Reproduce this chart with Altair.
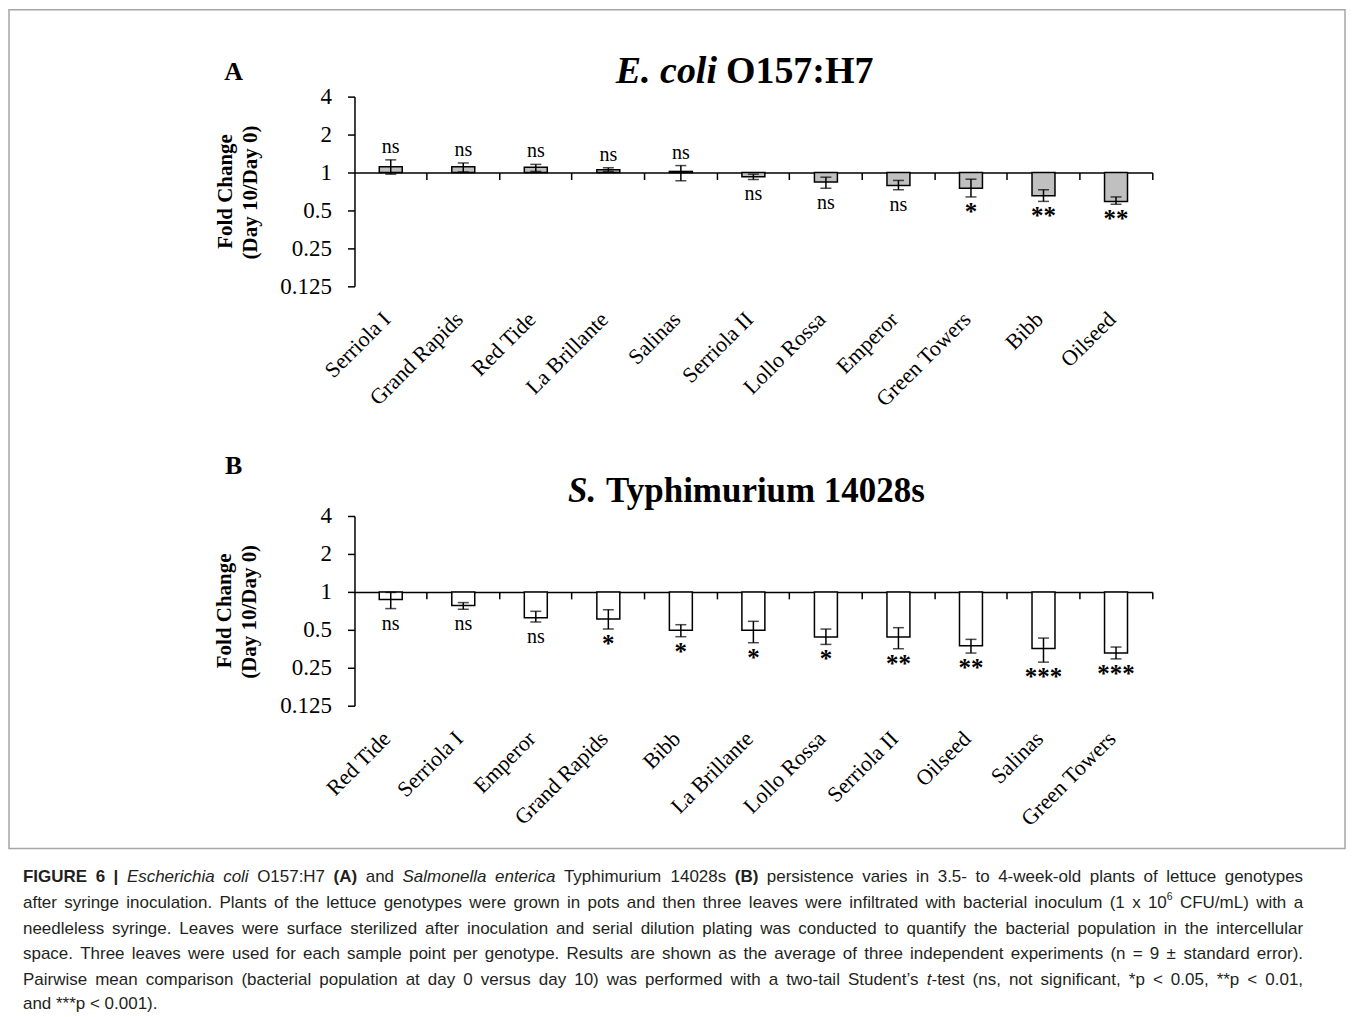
import altair as alt
import pandas as pd

SERIF = "Liberation Serif"
SANS = "Liberation Sans"

# ---------------- data ----------------
A_cats = ["Serriola I", "Grand Rapids", "Red Tide", "La Brillante", "Salinas", "Serriola II",
          "Lollo Rossa", "Emperor", "Green Towers", "Bibb", "Oilseed"]
A_mean = [1.11, 1.11, 1.10, 1.05, 1.02, 0.925, 0.84, 0.79, 0.75, 0.655, 0.59]
A_hi = [1.26, 1.19, 1.16, 1.09, 1.135, 0.97, 0.918, 0.865, 0.885, 0.73, 0.64]
A_lo = [0.97, 1.01, 1.02, 1.02, 0.86, 0.88, 0.75, 0.73, 0.64, 0.59, 0.56]
A_sig = ["ns", "ns", "ns", "ns", "ns", "ns", "ns", "ns", "*", "**", "**"]

B_cats = ["Red Tide", "Serriola I", "Emperor", "Grand Rapids", "Bibb", "La Brillante",
          "Lollo Rossa", "Serriola II", "Oilseed", "Salinas", "Green Towers"]
B_mean = [0.869, 0.778, 0.624, 0.61, 0.495, 0.495, 0.438, 0.438, 0.374, 0.356, 0.327]
B_hi = [0.99, 0.822, 0.701, 0.723, 0.549, 0.584, 0.507, 0.52, 0.42, 0.43, 0.365]
B_lo = [0.737, 0.728, 0.577, 0.507, 0.441, 0.395, 0.383, 0.354, 0.327, 0.277, 0.294]
B_sig = ["ns", "ns", "ns", "*", "*", "*", "*", "**", "**", "***", "***"]

Y_TICKS = [0.125, 0.25, 0.5, 1, 2, 4]

W, H = 799, 190
OX_A, OY_A = 354, 95      # page position of panel A plot origin
OX_B, OY_B = 354, 515     # page position of panel B plot origin


def txt(s, x, y, size=20, weight="normal", style="normal", align="center",
        baseline="middle", angle=0, font=SERIF, color="black"):
    return alt.Chart(alt.Data(values=[{"t": s}])).mark_text(
        fontSize=size, fontWeight=weight, fontStyle=style, align=align,
        baseline=baseline, angle=angle, font=font, color=color
    ).encode(text="t:N", x=alt.value(x), y=alt.value(y))


def panel(cats, mean, lo, hi, sig, fill):
    df = pd.DataFrame({"cat": cats, "mean": mean, "lo": lo, "hi": hi, "sig": sig})
    df["base"] = 1.0
    df["side"] = ["up" if m > 1 else "down" for m in mean]
    df["fs"] = [20 if s == "ns" else 25 for s in sig]
    df["star"] = [s != "ns" for s in sig]
    ysc = alt.Scale(type="log", base=2, domain=[0.125, 4])
    xsc = alt.Scale(paddingInner=0, paddingOuter=0)
    yaxis = alt.Axis(orient="left", values=Y_TICKS, format="~g", grid=False,
                     domain=True, domainColor="black", domainWidth=1.5,
                     ticks=True, tickColor="black", tickWidth=1.5, tickSize=7,
                     labels=True, labelFont=SERIF, labelFontSize=23, labelColor="black",
                     labelPadding=16, title=None)
    xlab = alt.Axis(orient="bottom", domain=False, ticks=False, tickSize=0,
                    labelAngle=-45, labelAlign="right", labelBaseline="top",
                    labelPadding=22, labelOffset=-11, labelFont=SERIF, labelFontSize=22,
                    labelColor="black", title=None, grid=False)
    xline = alt.Axis(orient="bottom", offset=-114, labels=False, domain=True,
                     domainColor="black", domainWidth=1.5, ticks=True,
                     tickColor="black", tickWidth=1.5, tickSize=7, bandPosition=1,
                     title=None, grid=False)
    b = alt.Chart(df)
    xn = lambda: alt.X("cat:N", sort=cats, scale=xsc, axis=None)
    bars = b.mark_bar(size=23, fill=fill, stroke="black", strokeWidth=1.5).encode(
        x=alt.X("cat:N", sort=cats, scale=xsc, axis=xlab),
        y=alt.Y("mean:Q", scale=ysc, axis=yaxis),
        y2="base:Q")
    err = b.mark_rule(color="black", strokeWidth=1.5).encode(
        x=alt.X("cat:N", sort=cats, scale=xsc, axis=xline),
        y=alt.Y("lo:Q", scale=ysc, axis=None), y2="hi:Q")
    cap_lo = b.mark_tick(color="black", thickness=1.5, size=11).encode(
        x=xn(), y=alt.Y("lo:Q", scale=ysc, axis=None))
    cap_hi = b.mark_tick(color="black", thickness=1.5, size=11).encode(
        x=xn(), y=alt.Y("hi:Q", scale=ysc, axis=None))
    up = b.transform_filter("datum.side == 'up'").mark_text(
        font=SERIF, baseline="alphabetic", dy=-7, color="black").encode(
        x=xn(), y=alt.Y("hi:Q", scale=ysc, axis=None), text="sig:N",
        size=alt.Size("fs:Q", scale=None, legend=None))
    down_ns = b.transform_filter("datum.side == 'down' && !datum.star").mark_text(
        font=SERIF, baseline="top", dy=5, color="black").encode(
        x=xn(), y=alt.Y("lo:Q", scale=ysc, axis=None), text="sig:N",
        size=alt.Size("fs:Q", scale=None, legend=None))
    down_st = b.transform_filter("datum.side == 'down' && datum.star").mark_text(
        font=SERIF, baseline="top", dy=3, color="black", fontWeight="bold").encode(
        x=xn(), y=alt.Y("lo:Q", scale=ysc, axis=None), text="sig:N",
        size=alt.Size("fs:Q", scale=None, legend=None))
    return [bars, err, cap_lo, cap_hi, up, down_ns, down_st]


# ---------------- caption ----------------
REG = {' ': 278, '!': 278, '"': 355, '#': 556, '$': 556, '%': 889, '&': 667, "'": 191,
       '(': 333, ')': 333, '*': 389, '+': 584, ',': 278, '-': 333, '.': 278, '/': 278,
       ':': 278, ';': 278, '<': 584, '=': 584, '>': 584, '?': 556, '@': 1015,
       'A': 667, 'B': 667, 'C': 722, 'D': 722, 'E': 667, 'F': 611, 'G': 778, 'H': 722,
       'I': 278, 'J': 500, 'K': 667, 'L': 556, 'M': 833, 'N': 722, 'O': 778, 'P': 667,
       'Q': 778, 'R': 722, 'S': 667, 'T': 611, 'U': 722, 'V': 667, 'W': 944, 'X': 667,
       'Y': 667, 'Z': 611, 'a': 556, 'b': 556, 'c': 500, 'd': 556, 'e': 556, 'f': 278,
       'g': 556, 'h': 556, 'i': 222, 'j': 222, 'k': 500, 'l': 222, 'm': 833, 'n': 556,
       'o': 556, 'p': 556, 'q': 556, 'r': 333, 's': 500, 't': 278, 'u': 556, 'v': 500,
       'w': 722, 'x': 500, 'y': 500, 'z': 500, '±': 584, '’': 222, '|': 260}
BOLD = dict(REG)
BOLD.update({'A': 722, 'B': 722, 'G': 778, 'U': 722, 'R': 722, '|': 280})

CAP_LINES = [
    [("FIGURE 6 |", "b", False), ("Escherichia coli", "i", False), ("O157:H7", "r", False),
     ("(A)", "b", False), ("and", "r", False), ("Salmonella enterica", "i", False),
     ("Typhimurium 14028s", "r", False), ("(B)", "b", False),
     ("persistence varies in 3.5- to 4-week-old plants of lettuce genotypes", "r", False)],
    [("after syringe inoculation. Plants of the lettuce genotypes were grown in pots and then three leaves were infiltrated with bacterial inoculum (1 x 10", "r", False),
     ("6", "s", True), ("CFU/mL) with a", "r", False)],
    [("needleless syringe. Leaves were surface sterilized after inoculation and serial dilution plating was conducted to quantify the bacterial population in the intercellular", "r", False)],
    [("space. Three leaves were used for each sample point per genotype. Results are shown as the average of three independent experiments (n = 9 ± standard error).", "r", False)],
    [("Pairwise mean comparison (bacterial population at day 0 versus day 10) was performed with a two-tail Student’s", "r", False),
     ("t", "i", False), ("-test (ns, not significant, *p < 0.05, **p < 0.01,", "r", True)],
    [("and ***p < 0.001).", "r", False)],
]
CAP_Y = [877, 903, 929, 954, 980, 1004]
CAP_X0, CAP_X1 = 22, 1304


def wem(word, style):
    tab = BOLD if style == "b" else REG
    w = sum(tab.get(ch, 556) for ch in word) / 1000.0
    return w * (0.62 if style == "s" else 1.0)


line_tokens = []
for segs in CAP_LINES:
    toks = []
    for text, style, joined in segs:
        for k, word in enumerate(text.split(" ")):
            toks.append((word, style, joined if k == 0 else False))
    line_tokens.append(toks)

nat = []
for toks in line_tokens:
    gaps = sum(1 for i, t in enumerate(toks) if i > 0 and not t[2])
    nat.append(sum(wem(t[0], t[1]) for t in toks) + gaps * 0.278)
CAP_FS = min(17.0, min((CAP_X1 - CAP_X0) / n for n in nat[:-1]))

rows = []
for li, toks in enumerate(line_tokens):
    gaps = sum(1 for i, t in enumerate(toks) if i > 0 and not t[2])
    extra = 0.0
    if li < len(line_tokens) - 1 and gaps:
        extra = ((CAP_X1 - CAP_X0) - nat[li] * CAP_FS) / gaps
    x = CAP_X0
    for i, (word, style, joined) in enumerate(toks):
        if i > 0 and not joined:
            x += 0.278 * CAP_FS + extra
        y = CAP_Y[li] - (6 if style == "s" else 0)
        rows.append({"t": word, "x": x - OX_B, "y": y - OY_B, "st": style})
        x += wem(word, style) * CAP_FS
cap_df = pd.DataFrame(rows)


def cap_layer(style, **kw):
    return alt.Chart(cap_df).transform_filter(f"datum.st == '{style}'").mark_text(
        font=SANS, align="left", baseline="middle", color="#231f20", **kw
    ).encode(x=alt.X("x:Q", scale=None, axis=None),
             y=alt.Y("y:Q", scale=None, axis=None), text="t:N")


caption = [
    cap_layer("r", fontSize=CAP_FS),
    cap_layer("b", fontSize=CAP_FS, fontWeight="bold"),
    cap_layer("i", fontSize=CAP_FS, fontStyle="italic"),
    cap_layer("s", fontSize=CAP_FS * 0.62),
]

# ---------------- panels ----------------
border = alt.Chart(alt.Data(values=[{"a": 1}])).mark_rect(
    fillOpacity=0, stroke="#a6a6a6", strokeWidth=1.5
).encode(x=alt.value(8 - OX_A), x2=alt.value(1346 - OX_A),
         y=alt.value(8 - OY_A), y2=alt.value(848 - OY_A))

deco_A = [
    border,
    txt("A", 233 - OX_A, 70 - OY_A, size=26, weight="bold"),
    txt("E. coli", 717 - OX_A, 70 - OY_A, size=38, weight="bold", style="italic", align="right"),
    txt("O157:H7", 726 - OX_A, 70 - OY_A, size=38, weight="bold", align="left"),
    txt("Fold Change", 225 - OX_A, 95, size=21, weight="bold", angle=270),
    txt("(Day 10/Day 0)", 250 - OX_A, 96, size=21, weight="bold", angle=270),
]
panel_A = alt.layer(*panel(A_cats, A_mean, A_lo, A_hi, A_sig, "#c0c0c0"), *deco_A
                    ).resolve_axis(x="independent", y="independent").properties(width=W, height=H)

deco_B = [
    txt("B", 233 - OX_B, 465 - OY_B, size=26, weight="bold"),
    txt("S.", 596 - OX_B, 490 - OY_B, size=35, weight="bold", style="italic", align="right"),
    txt("Typhimurium  14028s", 606 - OX_B, 490 - OY_B, size=35, weight="bold", align="left"),
    txt("Fold Change", 224 - OX_B, 95, size=21, weight="bold", angle=270),
    txt("(Day 10/Day 0)", 249 - OX_B, 96, size=21, weight="bold", angle=270),
]
panel_B = alt.layer(*panel(B_cats, B_mean, B_lo, B_hi, B_sig, "white"), *deco_B, *caption
                    ).resolve_axis(x="independent", y="independent").properties(width=W, height=H)

chart = alt.vconcat(panel_A, panel_B, spacing=OY_B - OY_A - H, bounds="flush").properties(
    padding=0, background="white"
).configure_view(stroke=None)

chart.save("out.html", embed_options={"renderer": "svg", "actions": False})
